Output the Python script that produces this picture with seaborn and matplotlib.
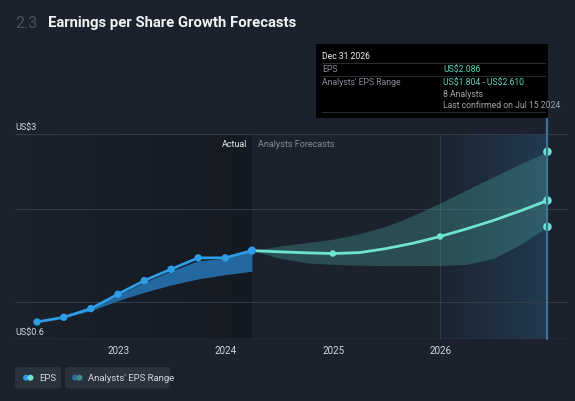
import matplotlib
matplotlib.use("Agg")
import matplotlib.pyplot as plt
import matplotlib.dates as mdates
import matplotlib.transforms as mtransforms
from matplotlib.patches import FancyBboxPatch, Rectangle, Circle
import numpy as np
import pandas as pd
import seaborn as sns

# ---------------- data ----------------
hist_dates = ["2022-03-31", "2022-06-30", "2022-09-30", "2022-12-31", "2023-03-31",
              "2023-06-30", "2023-09-30", "2023-12-31", "2024-03-31"]
hist_eps = [0.783, 0.833, 0.926, 1.081, 1.227, 1.349, 1.471, 1.471, 1.549]

hist_band_dates = ["2022-06-30", "2022-09-30", "2022-12-31", "2023-03-31",
                   "2023-06-30", "2023-09-30", "2023-12-31", "2024-03-31"]
hist_band_low = [0.833, 0.904, 1.012, 1.102, 1.180, 1.245, 1.290, 1.328]
hist_band_high = [0.833, 0.920, 1.070, 1.210, 1.330, 1.440, 1.465, 1.549]

fc_dates = ["2024-03-31", "2024-06-30", "2024-09-30", "2024-12-31", "2025-03-31",
            "2025-06-30", "2025-09-30", "2025-12-31", "2026-03-31", "2026-06-30",
            "2026-09-30", "2026-12-31"]
fc_eps = [1.549, 1.536, 1.525, 1.517, 1.527, 1.570, 1.628, 1.700, 1.782, 1.872, 1.975, 2.086]
fc_high = [1.549, 1.597, 1.633, 1.670, 1.728, 1.810, 1.925, 2.060, 2.200, 2.340, 2.480, 2.610]
fc_low = [1.549, 1.470, 1.418, 1.400, 1.392, 1.388, 1.388, 1.390, 1.400, 1.465, 1.615, 1.804]

fc_marker_dates = ["2024-12-31", "2025-12-31"]
fc_marker_eps = [1.517, 1.700]
end_date = ["2026-12-31", "2026-12-31", "2026-12-31"]
end_values = [2.610, 2.086, 1.804]

year_ticks = ["2023-01-01", "2024-01-01", "2025-01-01", "2026-01-01"]
year_labels = ["2023", "2024", "2025", "2026"]

hist = pd.DataFrame({"date": pd.to_datetime(hist_dates), "eps": hist_eps})
hband = pd.DataFrame({"date": pd.to_datetime(hist_band_dates), "low": hist_band_low, "high": hist_band_high})
fc = pd.DataFrame({"date": pd.to_datetime(fc_dates), "eps": fc_eps, "low": fc_low, "high": fc_high})
fcm = pd.DataFrame({"date": pd.to_datetime(fc_marker_dates), "eps": fc_marker_eps})
endp = pd.DataFrame({"date": pd.to_datetime(end_date), "eps": end_values})

# ---------------- style ----------------
BG = "#1b222d"
BLUE = "#2f9de6"
TEAL = "#6fe3cf"
GRID = "#323b48"
TXT = "#d4d6da"
GREY = "#868c96"

sns.set_theme(style="dark")
plt.rcParams["font.family"] = ["Roboto", "DejaVu Sans"]

W, H = 575, 402
fig = plt.figure(figsize=(W / 100, H / 100), dpi=100, facecolor=BG)

def fx(px):
    return px / W

def fy(py):
    return 1 - py / H

ax_l, ax_r, ax_t, ax_b = 15, 568, 135, 340
ax = fig.add_axes([fx(ax_l), fy(ax_b), fx(ax_r - ax_l), (ax_b - ax_t) / H])
ax.set_facecolor(BG)

xmin = pd.Timestamp("2022-01-15")
xmax = pd.Timestamp("2027-03-11")
ymin, ymax = 0.6, 2.8

# actual region gradient (darker towards the right)
x0 = mdates.date2num(xmin)
x_act = mdates.date2num(pd.Timestamp("2024-03-31"))
grad = np.zeros((1, 256, 4))
grad[..., 0:3] = np.array([0.05, 0.06, 0.08])
grad[..., 3] = np.linspace(0.03, 0.45, 256)
ax.imshow(grad, extent=[x0, x_act, ymin, ymax], aspect="auto", zorder=0.5, interpolation="bilinear")

# highlight region gradient (hovered year)
xh0 = mdates.date2num(pd.Timestamp("2026-01-01"))
xh1 = mdates.date2num(pd.Timestamp("2026-12-31"))
grad2 = np.zeros((1, 256, 4))
grad2[..., 0:3] = np.array([0.16, 0.33, 0.47])
grad2[..., 3] = np.linspace(0.05, 0.48, 256)
ax.imshow(grad2, extent=[xh0, xh1, ymin, ymax], aspect="auto", zorder=0.5, interpolation="bilinear")
ax.axvline(pd.Timestamp("2026-01-01"), color="#2e3e50", lw=0.8, zorder=0.6)

# gridlines
for v in [1.0, 2.0]:
    ax.axhline(v, color=GRID, lw=0.8, zorder=1)
ax.axhline(ymax, color=GRID, lw=0.9, zorder=1)
ax.axhline(ymin, color="#3d4552", lw=1.0, zorder=1)

# bands
ax.fill_between(hband["date"], hband["low"], hband["high"], color="#2368a0", lw=0, zorder=2)
ax.fill_between(fc["date"], fc["low"], fc["high"], color="#4aa9a2", alpha=0.32, lw=0, zorder=2)

# lines
sns.lineplot(data=hist, x="date", y="eps", color=BLUE, lw=2, ax=ax, zorder=4)
sns.scatterplot(data=hist, x="date", y="eps", color=BLUE, s=28, edgecolor="none", ax=ax, zorder=5)
sns.lineplot(data=fc, x="date", y="eps", color=TEAL, lw=2, ax=ax, zorder=4)
sns.scatterplot(data=fcm, x="date", y="eps", color=TEAL, s=22, edgecolor="none", ax=ax, zorder=5)
sns.scatterplot(data=endp, x="date", y="eps", color=TEAL, s=38, edgecolor="none", ax=ax, zorder=6)
sns.scatterplot(data=hist.tail(1), x="date", y="eps", color=BLUE, s=34, edgecolor="none", ax=ax, zorder=6)

# hover vertical line, extending up to the tooltip
trans = mtransforms.blended_transform_factory(ax.transData, ax.transAxes)
ax.plot([pd.Timestamp("2026-12-31")] * 2, [0, 1 + 17 / 205], transform=trans,
        color="#3b739c", lw=1.6, zorder=7, clip_on=False)

ax.set_xlim(xmin, xmax)
ax.set_ylim(ymin, ymax)
ax.set_xticks(pd.to_datetime(year_ticks))
ax.set_xticklabels(year_labels)
ax.set_yticks([])
ax.tick_params(axis="x", colors=TXT, labelsize=7, length=0, pad=4)
ax.set_xlabel("")
ax.set_ylabel("")
ax.grid(False)
for s in ax.spines.values():
    s.set_visible(False)

# y labels
ax.text(0, 1.015, "US\\$3", transform=ax.transAxes, color=TXT, fontsize=6.5, va="bottom", ha="left")
ax.text(0, 0.015, "US\\$0.6", transform=ax.transAxes, color=TXT, fontsize=6.5, va="bottom", ha="left")

# Actual / forecast labels
off_l = mtransforms.offset_copy(trans, fig=fig, x=-5, y=0, units="dots")
off_r = mtransforms.offset_copy(trans, fig=fig, x=6, y=0, units="dots")
ax.text(pd.Timestamp("2024-03-31"), 0.955, "Actual", transform=off_l, color="#e6e7ea",
        fontsize=6.5, ha="right", va="center")
ax.text(pd.Timestamp("2024-03-31"), 0.955, "Analysts Forecasts", transform=off_r, color=GREY,
        fontsize=6.5, ha="left", va="center")

# ---------------- overlay (pixel coordinates) ----------------
ov = fig.add_axes([0, 0, 1, 1], zorder=10)
ov.set_xlim(0, W)
ov.set_ylim(H, 0)
ov.axis("off")
ov.patch.set_alpha(0)

# title
ov.text(15, 23, "2.3", color="#4b5361", fontsize=11.5, va="center", ha="left")
ov.text(48, 23, "Earnings per Share Growth Forecasts", color="#f2f3f5", fontsize=10.7,
        fontweight="semibold", va="center", ha="left")

# tooltip
ov.add_patch(Rectangle((316, 45), 232, 74, facecolor="#000000", edgecolor="none", alpha=0.95))
for yy in [63.5, 77, 112.5]:
    ov.plot([322, 545], [yy, yy], color="#2a2d33", lw=0.7)
TT = 6.2
ov.text(322, 56.5, "Dec 31 2026", color="#f0f0f0", fontsize=TT, va="center")
ov.text(322, 70, "EPS", color=GREY, fontsize=TT, va="center")
ov.text(322, 82.5, "Analysts' EPS Range", color=GREY, fontsize=TT, va="center")
ov.text(443, 70, "US\\$2.086", color="#5fd3b8", fontsize=TT, va="center")
ov.text(443, 82.5, "US\\$1.804 - US\\$2.610", color="#5fd3b8", fontsize=TT, va="center")
ov.text(443, 94.5, "8 Analysts", color="#a0a4ab", fontsize=TT, va="center")
ov.text(443, 106, "Last confirmed on Jul 15 2024", color="#a0a4ab", fontsize=TT, va="center")

# legend buttons
ov.add_patch(FancyBboxPatch((15, 368), 46, 21.5, boxstyle="round,pad=0,rounding_size=3",
                            facecolor="#2a323e", edgecolor="none"))
ov.add_patch(FancyBboxPatch((65, 368), 105, 21.5, boxstyle="round,pad=0,rounding_size=3",
                            facecolor="#2a323e", edgecolor="none"))
ov.add_patch(Circle((26, 378.7), 3.0, facecolor=BLUE, edgecolor="none"))
ov.add_patch(Circle((30.5, 378.7), 3.0, facecolor=TEAL, edgecolor="none"))
ov.add_patch(Circle((75, 378.7), 3.0, facecolor="#2b6d9c", edgecolor="none"))
ov.add_patch(Circle((79.5, 378.7), 3.0, facecolor="#3f8b86", edgecolor="none"))
ov.text(39, 378.7, "EPS", color=TXT, fontsize=6.8, va="center")
ov.text(88, 378.7, "Analysts' EPS Range", color=TXT, fontsize=6.8, va="center")

fig.savefig("out.png", dpi=100, facecolor=BG)
